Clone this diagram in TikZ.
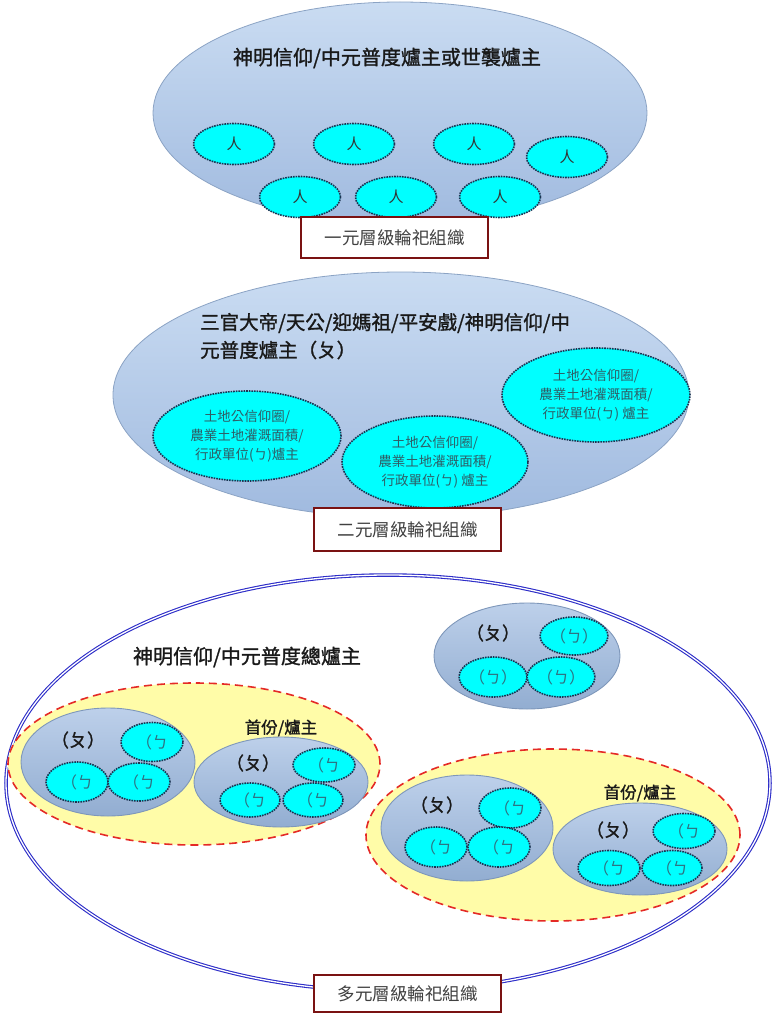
\documentclass[tikz,border=0pt]{standalone}
\usepackage{fontspec}
\setmainfont{Noto Sans CJK TC}
\newfontfamily\cjkbold[FakeBold=1.3]{Noto Sans CJK TC}
\usetikzlibrary{shapes.geometric}
\definecolor{bluetop}{HTML}{CADCF2}
\definecolor{bluebot}{HTML}{A0BADF}
\definecolor{bluebd}{HTML}{8BA3C4}
\definecolor{grptop}{HTML}{BDD0EA}
\definecolor{grpbot}{HTML}{92ADD1}
\definecolor{grpbd}{HTML}{7E97BA}
\definecolor{cyanfill}{HTML}{00FFFF}
\definecolor{dotbd}{HTML}{1B3352}
\definecolor{boxred}{HTML}{7A1212}
\definecolor{boxtext}{HTML}{404040}
\definecolor{cyantext}{HTML}{2E5E66}
\definecolor{btext}{HTML}{2F7080}
\definecolor{outerblue}{HTML}{2C2CC8}
\definecolor{yellowfill}{HTML}{FFFCA8}
\definecolor{reddash}{HTML}{E42A26}
\begin{document}
\begin{tikzpicture}[x=1pt,y=-1pt,
  bigell/.style={ellipse, draw=bluebd, line width=0.8pt, top color=bluetop, bottom color=bluebot, inner sep=0pt},
  grpell/.style={ellipse, draw=grpbd, line width=0.9pt, top color=grptop, bottom color=grpbot, inner sep=0pt},
  person/.style={ellipse, draw=dotbd, densely dotted, line width=1.6pt, fill=cyanfill, inner sep=0pt},
  pers/.style={person, font=\fontsize{15}{18}\selectfont, text=black!80},
  unit/.style={person, font=\fontsize{13.5}{19}\selectfont, text=cyantext, align=center},
  bnode/.style={person, font=\fontsize{16}{18}\selectfont, text=btext},
  tag/.style={rectangle, draw=boxred, line width=2.5pt, fill=white, minimum width=187pt, inner sep=0pt, font=\fontsize{17.5}{20}\selectfont, text=boxtext},
  title/.style={inner sep=0pt, font=\cjkbold\fontsize{20}{24}\selectfont, text=black!90},
  ptitle/.style={inner sep=0pt, font=\cjkbold\fontsize{18}{20}\selectfont, text=black!90},
  sub/.style={inner sep=0pt, font=\cjkbold\fontsize{16.5}{18}\selectfont, text=black!90},
  yell/.style={ellipse, draw=reddash, line width=1.6pt, dash pattern=on 8pt off 5pt, fill=yellowfill, inner sep=0pt},
  outer/.style={ellipse, draw=outerblue, line width=1.1pt, double=white, double distance=1.3pt, inner sep=0pt}
]
\useasboundingbox (0,0) rectangle (772,1014);

% ---------- section 1 ----------
\node[bigell, minimum width=494pt, minimum height=222pt] (e1) at (400,113) {};
\node[title] (t1) at (387,58) {神明信仰/中元普度爐主或世襲爐主};
\node[pers, minimum width=81pt, minimum height=41pt] (p1) at (234,144) {人};
\node[pers, minimum width=81pt, minimum height=41pt] (p2) at (354,144) {人};
\node[pers, minimum width=81pt, minimum height=41pt] (p3) at (474,144) {人};
\node[pers, minimum width=81pt, minimum height=41pt] (p4) at (567,157) {人};
\node[pers, minimum width=81pt, minimum height=41pt] (p5) at (300,197) {人};
\node[pers, minimum width=81pt, minimum height=41pt] (p6) at (396,197) {人};
\node[pers, minimum width=81pt, minimum height=41pt] (p7) at (500,197) {人};
\node[tag, minimum height=41pt] (b1) at (394.5,237.5) {一元層級輪祀組織};

% ---------- section 2 ----------
\node[bigell, minimum width=576pt, minimum height=246pt] (e2) at (401,395) {};
\node[title, anchor=west, font=\cjkbold\fontsize{19.5}{24}\selectfont] (t2a) at (200,323) {三官大帝/天公/迎媽祖/平安戲/神明信仰/中};
\node[title, anchor=west, font=\cjkbold\fontsize{19.5}{24}\selectfont] (t2b) at (200,350) {元普度爐主（ㄆ）};
\node[unit, minimum width=188pt, minimum height=90pt] (c1) at (247,436) {土地公信仰圈/\\農業土地灌溉面積/\\行政單位(ㄅ)爐主};
\node[unit, minimum width=186pt, minimum height=92pt] (c2) at (435,462) {土地公信仰圈/\\農業土地灌溉面積/\\行政單位(ㄅ) 爐主};
\node[unit, minimum width=188pt, minimum height=94pt] (c3) at (596,395) {土地公信仰圈/\\農業土地灌溉面積/\\行政單位(ㄅ) 爐主};
\node[tag, minimum height=43pt] (b2) at (407.5,529.5) {二元層級輪祀組織};

% ---------- section 3 ----------
\node[outer, minimum width=764pt, minimum height=416pt] (o3) at (388,783) {};
\node[title] (t3) at (247,657) {神明信仰/中元普度總爐主};

\node[yell, minimum width=372pt, minimum height=162pt] (y1) at (194,764) {};
\node[yell, minimum width=374pt, minimum height=172pt] (y2) at (553,835) {};

% top group
\node[grpell, minimum width=186pt, minimum height=106pt] (gt) at (527,656) {};
\node[ptitle] (gtl) at (493,633) {（ㄆ）};
\node[bnode, minimum width=66pt, minimum height=38pt] (ta) at (574,636) {（ㄅ）};
\node[bnode, minimum width=66pt, minimum height=40pt] (tb) at (493,677) {（ㄅ）};
\node[bnode, minimum width=66pt, minimum height=40pt] (tc) at (561,677) {（ㄅ）};

% left yellow: group L1
\node[grpell, minimum width=174pt, minimum height=108pt] (g1) at (108,762) {};
\node[ptitle] (g1l) at (78,740) {（ㄆ）};
\node[bnode, minimum width=62pt, minimum height=39pt] (l1a) at (152,742) {（ㄅ};
\node[bnode, minimum width=62pt, minimum height=40pt] (l1b) at (77,782) {（ㄅ};
\node[bnode, minimum width=62pt, minimum height=38pt] (l1c) at (139,782) {（ㄅ};

% left yellow: group L2
\node[sub] (s1) at (281,728) {首份/爐主};
\node[grpell, minimum width=174pt, minimum height=90pt] (g2) at (281,782) {};
\node[ptitle] (g2l) at (253,763) {（ㄆ）};
\node[bnode, minimum width=62pt, minimum height=34pt] (l2a) at (324,765) {（ㄅ};
\node[bnode, minimum width=60pt, minimum height=34pt] (l2b) at (250,800) {（ㄅ};
\node[bnode, minimum width=60pt, minimum height=34pt] (l2c) at (313,800) {（ㄅ};

% right yellow: group R1
\node[grpell, minimum width=172pt, minimum height=106pt] (g3) at (467,828) {};
\node[ptitle] (g3l) at (437,805) {（ㄆ）};
\node[bnode, minimum width=62pt, minimum height=40pt] (r1a) at (510,808) {（ㄅ};
\node[bnode, minimum width=62pt, minimum height=40pt] (r1b) at (436,847) {（ㄅ};
\node[bnode, minimum width=62pt, minimum height=40pt] (r1c) at (499,847) {（ㄅ};

% right yellow: group R2
\node[sub] (s2) at (640,793) {首份/爐主};
\node[grpell, minimum width=174pt, minimum height=92pt] (g4) at (640,849) {};
\node[ptitle] (g4l) at (613,830) {（ㄆ）};
\node[bnode, minimum width=62pt, minimum height=35pt] (r2a) at (684,831) {（ㄅ};
\node[bnode, minimum width=62pt, minimum height=35pt] (r2b) at (609,868) {（ㄅ};
\node[bnode, minimum width=60pt, minimum height=35pt] (r2c) at (672,868) {（ㄅ};

\node[tag, minimum height=37pt] (b3) at (407.5,993.5) {多元層級輪祀組織};
\end{tikzpicture}
\end{document}
